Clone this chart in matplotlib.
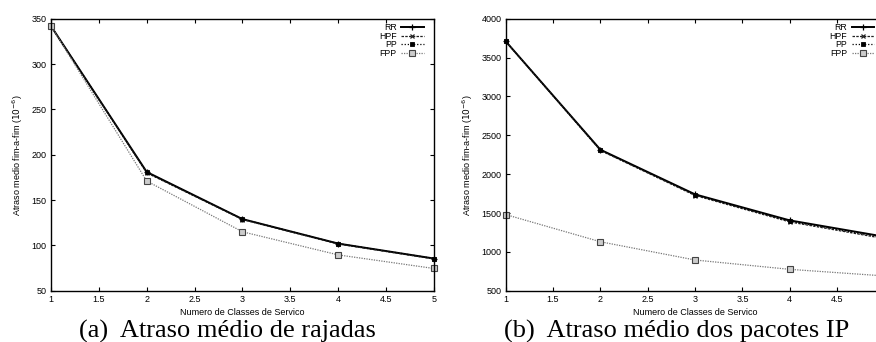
import matplotlib.pyplot as plt

plt.rcParams['font.family'] = ['Liberation Sans', 'DejaVu Sans']

x = [1, 2, 3, 4, 5]
series = ["RR", "HPF", "PP", "FPP"]
xtick_vals = [1, 1.5, 2, 2.5, 3, 3.5, 4, 4.5, 5]
xtick_labels = ["1", "1.5", "2", "2.5", "3", "3.5", "4", "4.5", "5"]

# (a) atraso medio de rajadas
rr_a = [342, 181, 129, 102, 85.5]
hpf_a = [342, 180, 128.5, 101.5, 85]
pp_a = [342, 180.5, 129, 102, 85.5]
fpp_a = [342, 171, 115, 89.5, 74.5]

# (b) atraso medio dos pacotes IP
rr_b = [3710, 2315, 1740, 1405, 1195]
hpf_b = [3710, 2305, 1725, 1385, 1170]
pp_b = [3710, 2310, 1735, 1395, 1180]
fpp_b = [1480, 1130, 895, 775, 690]

styles = {
    "RR": dict(color='black', ls='-', lw=1.4, marker='+', ms=5, mew=0.9),
    "HPF": dict(color='#222222', ls=(0, (2, 1)), lw=0.9, marker='x', ms=3.5, mew=0.9),
    "PP": dict(color='black', ls=(0, (1, 1.5)), lw=0.9, marker='s', ms=3, mew=0.6),
    "FPP": dict(color='#777777', ls=(0, (1, 1)), lw=0.9, marker='s', ms=4,
                mfc='#cccccc', mec='#444444', mew=0.8),
}

fig = plt.figure(figsize=(8.76, 3.42), dpi=100)
ax1 = fig.add_axes([0.0582, 0.150, 0.4372, 0.795])
# o painel (b) passa da borda da figura, como no original
ax2 = fig.add_axes([0.5773, 0.150, 0.4324, 0.795])

for ax, data, ylim, ystep, last_lbl in [
    (ax1, [rr_a, hpf_a, pp_a, fpp_a], (50, 350), 50, "5"),
    (ax2, [rr_b, hpf_b, pp_b, fpp_b], (500, 4000), 500, ""),
]:
    for name, y in zip(series, data):
        ax.plot(x, y, label=name, clip_on=False, **styles[name])
    ax.set_xlim(1, 5)
    ax.set_ylim(*ylim)
    ax.set_xticks(xtick_vals)
    ax.set_xticklabels(xtick_labels[:-1] + [last_lbl])
    ax.set_yticks(range(ylim[0], ylim[1] + 1, ystep))
    ax.tick_params(direction='in', top=True, right=True, labelsize=6.5,
                   length=3, width=0.8, pad=3)
    for s in ax.spines.values():
        s.set_linewidth(1.0)
    ax.set_xlabel("Numero de Classes de Servico", fontsize=6.5, labelpad=3)
    ax.set_ylabel(r"Atraso medio fim-a-fim ($10^{-6}$)", fontsize=6.5, labelpad=5)
    ax.legend(loc='upper right', frameon=False, fontsize=6.3, markerfirst=False,
              handlelength=2.6, handletextpad=0.5, labelspacing=-0.05,
              borderaxespad=0.1, bbox_to_anchor=(0.985, 1.0))

serif = ['Liberation Serif', 'DejaVu Serif']
fig.text(0.26, 0.012, "(a)  Atraso médio de rajadas", family=serif, fontsize=19, ha='center')
fig.text(0.772, 0.012, "(b)  Atraso médio dos pacotes IP", family=serif, fontsize=19, ha='center')

fig.savefig("out.png", dpi=100)
